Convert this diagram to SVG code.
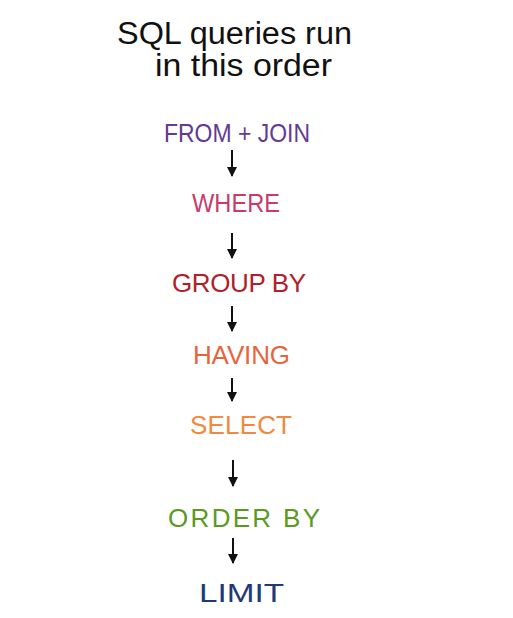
<svg xmlns="http://www.w3.org/2000/svg" width="513" height="618" viewBox="0 0 513 618">
<defs>
<marker id="ah" viewBox="0 0 10 10" refX="9" refY="5" markerWidth="10" markerHeight="12" markerUnits="userSpaceOnUse" orient="auto">
<path d="M0,0 L10,5 L0,10 Z" fill="#111"/>
</marker>
</defs>
<style>
.t{font-family:"Liberation Sans",Arial,sans-serif;font-size:31px;fill:#111}
.l{font-family:"Liberation Sans",Arial,sans-serif;font-size:26px}
.c{stroke:#111;stroke-width:2;fill:none}
</style>
<rect width="513" height="618" fill="#fff"/>
<g id="title">
<text class="t" x="117" y="44" textLength="235" lengthAdjust="spacingAndGlyphs">SQL queries run</text>
<text class="t" x="155" y="76" textLength="177" lengthAdjust="spacingAndGlyphs">in this order</text>
</g>
<g id="from"><text class="l" x="164" y="142" textLength="146" lengthAdjust="spacingAndGlyphs" fill="#633a94">FROM + JOIN</text></g>
<g id="where"><text class="l" x="192" y="212" textLength="88" lengthAdjust="spacingAndGlyphs" fill="#c93a6b">WHERE</text></g>
<g id="groupby"><text class="l" x="172" y="292" textLength="134" lengthAdjust="spacing" fill="#b01f2a">GROUP BY</text></g>
<g id="having"><text class="l" x="193" y="364" textLength="97" lengthAdjust="spacing" fill="#e8643c">HAVING</text></g>
<g id="select"><text class="l" x="190" y="434" textLength="102" lengthAdjust="spacing" fill="#f08a40">SELECT</text></g>
<g id="orderby"><text class="l" x="168" y="527" textLength="152" lengthAdjust="spacing" fill="#5b9a1f">ORDER BY</text></g>
<g id="limit"><text class="l" x="199" y="602" textLength="85" lengthAdjust="spacingAndGlyphs" fill="#1f3a78">LIMIT</text></g>
<g id="connectors">
<line class="c" x1="232" y1="150" x2="232" y2="176" marker-end="url(#ah)"/>
<line class="c" x1="232" y1="233" x2="232" y2="258" marker-end="url(#ah)"/>
<line class="c" x1="232" y1="306" x2="232" y2="331" marker-end="url(#ah)"/>
<line class="c" x1="232" y1="378" x2="232" y2="401" marker-end="url(#ah)"/>
<line class="c" x1="233" y1="460" x2="233" y2="486" marker-end="url(#ah)"/>
<line class="c" x1="233" y1="538" x2="233" y2="563" marker-end="url(#ah)"/>
</g>
</svg>
